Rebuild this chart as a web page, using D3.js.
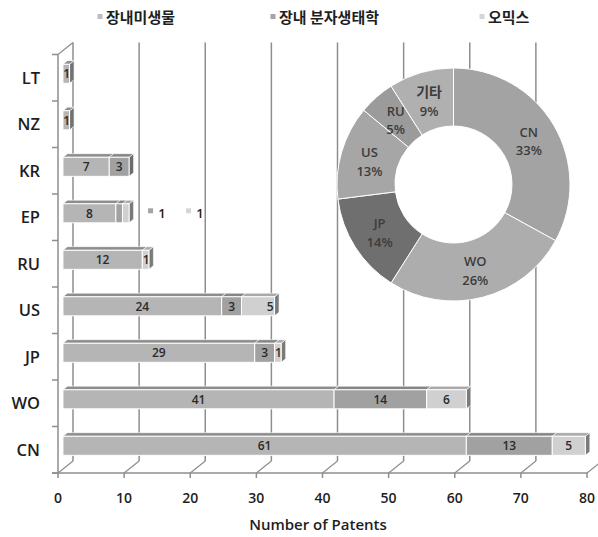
<!DOCTYPE html>
<html>
<head>
<meta charset="utf-8">
<script src="https://cdn.jsdelivr.net/npm/d3@7"></script>
<style>
  html, body { margin: 0; padding: 0; background: #fff; }
  svg { display: block; }
  .lat { font-family: "Open Sans", "Noto Sans", sans-serif; }
  .kor { font-family: "Noto Sans CJK KR", "Noto Sans", sans-serif; }
</style>
</head>
<body>
<svg id="chart" width="598" height="537"></svg>
<script>
// Patent counts by country, stacked by research area
const categories = ["LT", "NZ", "KR", "EP", "RU", "US", "JP", "WO", "CN"];
const seriesNames = ["장내미생물", "장내 분자생태학", "오믹스"];
const microbiota = [1, 1, 7, 8, 12, 24, 29, 41, 61];
const molecular  = [0, 0, 3, 1, 0, 3, 3, 14, 13];
const omics      = [0, 0, 0, 1, 1, 5, 1, 6, 5];
const xTicks = [0, 10, 20, 30, 40, 50, 60, 70, 80];

// Share of patents by country (donut)
const shareLabels = ["CN", "WO", "JP", "US", "RU", "기타"];
const shareValues = [33, 26, 14, 13, 5, 9];

const seriesFront = ["#b5b5b5", "#a1a1a1", "#d0d0d0"];
const seriesTop   = ["#8d8d8d", "#858585", "#a9a9a9"];
const seriesSide  = ["#727272", "#6c6c6c", "#7a7a7a"];
const legendKey   = ["#bdbdbd", "#a4a4a4", "#d6d6d6"];
const shareColors = ["#a3a3a3", "#adadad", "#6f6f6f", "#a6a6a6", "#9b9b9b", "#b0b0b0"];

const svg = d3.select("#chart");
const gridColor = "#8e8e8e";

// 3D frame: front plane and depth vector to the back wall
const x = d3.scaleLinear().domain([0, 80]).range([58, 587]);
const y = d3.scaleBand().domain(categories).range([54.5, 473]);
const depth = { x: 15, y: -12 };
const f0 = 0.33, f1 = 0.63;           // bar depth span (fraction of floor depth)
const barH = y.bandwidth() * 0.41;
const floorY = y.range()[1], wallTop = y.range()[0];

const frame = svg.append("g");
// back wall gridlines
frame.selectAll("line.grid").data(xTicks).join("line")
  .attr("x1", d => x(d) + depth.x).attr("x2", d => x(d) + depth.x)
  .attr("y1", wallTop + depth.y).attr("y2", floorY + depth.y)
  .attr("stroke", gridColor).attr("stroke-width", 1.5);
// floor diagonals
frame.selectAll("line.diag").data(xTicks).join("line")
  .attr("x1", d => x(d)).attr("x2", d => x(d) + depth.x)
  .attr("y1", floorY).attr("y2", floorY + depth.y)
  .attr("stroke", gridColor).attr("stroke-width", 1.2);
// left wall
frame.append("line").attr("x1", x(0)).attr("x2", x(0)).attr("y1", wallTop).attr("y2", floorY)
  .attr("stroke", gridColor).attr("stroke-width", 1.5);
frame.append("line").attr("x1", x(0)).attr("x2", x(0) + depth.x)
  .attr("y1", wallTop).attr("y2", wallTop + depth.y)
  .attr("stroke", gridColor).attr("stroke-width", 1.2);
// front floor edge + ticks
frame.append("line").attr("x1", x(0) - 6).attr("x2", x(80)).attr("y1", floorY).attr("y2", floorY)
  .attr("stroke", gridColor).attr("stroke-width", 1.5);
frame.selectAll("line.xt").data(xTicks).join("line")
  .attr("x1", d => x(d)).attr("x2", d => x(d)).attr("y1", floorY).attr("y2", floorY + 5)
  .attr("stroke", gridColor).attr("stroke-width", 1.5);
const yEdges = categories.map(c => y(c)).concat([floorY]);
frame.selectAll("line.yt").data(yEdges).join("line")
  .attr("x1", x(0) - 6).attr("x2", x(0)).attr("y1", d => d).attr("y2", d => d)
  .attr("stroke", gridColor).attr("stroke-width", 1.5);

// tick labels
svg.append("g").selectAll("text").data(xTicks).join("text")
  .attr("class", "lat").attr("x", d => x(d)).attr("y", floorY + 30)
  .attr("text-anchor", "middle").attr("font-size", 14).attr("font-weight", 600)
  .attr("fill", "#1e1e1e").text(d => d);
svg.append("g").selectAll("text").data(categories).join("text")
  .attr("class", "lat").attr("x", 40).attr("y", d => y(d) + y.bandwidth() / 2 + 6)
  .attr("text-anchor", "end").attr("font-size", 16.5).attr("font-weight", 600)
  .attr("fill", "#1e1e1e").text(d => d);
svg.append("text").attr("class", "lat").attr("x", 318).attr("y", 530)
  .attr("text-anchor", "middle").attr("font-size", 15).attr("font-weight", 600)
  .attr("fill", "#1e1e1e").text("Number of Patents");

// stacked 3D bars
const table = categories.map((c, i) => ({ cat: c, vals: [microbiota[i], molecular[i], omics[i]] }));
const bars = svg.append("g");
const labels = svg.append("g");
const dx0 = depth.x * f0, dy0 = depth.y * f0;
const ddx = depth.x * (f1 - f0), ddy = depth.y * (f1 - f0);

table.forEach(row => {
  const cy = y(row.cat) + y.bandwidth() / 2 + dy0;
  const top = cy - barH / 2, bot = cy + barH / 2;
  let acc = 0;
  const segs = [];
  row.vals.forEach((v, s) => {
    if (v <= 0) return;
    segs.push({ s, v, a: acc, b: acc + v });
    acc += v;
  });
  segs.forEach(seg => {
    const xa = x(seg.a) + dx0, xb = x(seg.b) + dx0;
    // right side
    bars.append("polygon")
      .attr("points", [[xb, top], [xb + ddx, top + ddy], [xb + ddx, bot + ddy], [xb, bot]].join(" "))
      .attr("fill", seriesSide[seg.s]).attr("stroke", "#fff").attr("stroke-width", 0.6);
    // top face
    bars.append("polygon")
      .attr("points", [[xa, top], [xb, top], [xb + ddx, top + ddy], [xa + ddx, top + ddy]].join(" "))
      .attr("fill", seriesTop[seg.s]).attr("stroke", "#fff").attr("stroke-width", 0.6);
    // front face
    bars.append("rect").attr("x", xa).attr("y", top).attr("width", xb - xa).attr("height", bot - top)
      .attr("fill", seriesFront[seg.s]).attr("stroke", "#fff").attr("stroke-width", 1);
  });
  // value labels
  const end = x(acc) + dx0;
  let outside = 0;
  segs.forEach(seg => {
    const w = x(seg.b) - x(seg.a);
    if (row.cat === "EP" && seg.s > 0) {
      // narrow segments get their labels beside the bar with a series key
      const kx = end + 19 + outside * 38;
      labels.append("rect").attr("x", kx).attr("y", cy - 5).attr("width", 5).attr("height", 5)
        .attr("fill", legendKey[seg.s]);
      labels.append("text").attr("class", "lat").attr("x", kx + 14).attr("y", cy + 4.5)
        .attr("text-anchor", "middle").attr("font-size", 13).attr("font-weight", 600)
        .attr("fill", "#222").text(seg.v);
      outside++;
      return;
    }
    // the US omics label sits at the inside end of its segment
    const atEnd = row.cat === "US" && seg.s === 2;
    labels.append("text").attr("class", "lat")
      .attr("x", atEnd ? x(seg.b) + dx0 - 1 : x(seg.a) + dx0 + w / 2 + (w < 10 ? 0.5 : 0))
      .attr("y", cy + 4.5)
      .attr("text-anchor", atEnd ? "end" : "middle").attr("font-size", 12).attr("font-weight", 600)
      .attr("fill", "#2a2a2a").text(seg.v);
  });
});

// donut of country shares
const cx = 453.5, cyD = 184.5, rOut = 116.5, rIn = 58.5;
const pie = d3.pie().sort(null).value(d => d.v);
const arc = d3.arc().innerRadius(rIn).outerRadius(rOut);
const shares = shareLabels.map((l, i) => ({ l, v: shareValues[i], c: shareColors[i] }));
const dg = svg.append("g").attr("transform", `translate(${cx},${cyD})`);
dg.append("circle").attr("r", rIn).attr("fill", "#fff");
dg.selectAll("path").data(pie(shares)).join("path")
  .attr("d", arc).attr("fill", d => d.data.c).attr("stroke", "#fff").attr("stroke-width", 1);
const dl = dg.selectAll("g.lbl").data(pie(shares)).join("g")
  .attr("transform", d => `translate(${arc.centroid(d)})`);
dl.append("text").attr("class", d => /[가-힣]/.test(d.data.l) ? "kor" : "lat")
  .attr("y", -3).attr("text-anchor", "middle")
  .attr("font-size", d => /[가-힣]/.test(d.data.l) ? 14 : 13).attr("font-weight", 600)
  .attr("fill", "#3c3c3c").text(d => d.data.l);
dl.append("text").attr("class", "lat").attr("y", 15.5).attr("text-anchor", "middle")
  .attr("font-size", 13).attr("font-weight", 600).attr("fill", "#3c3c3c")
  .text(d => d.data.v + "%");

// legend
const legX = [100, 273, 482];
const lg = svg.append("g");
seriesNames.forEach((n, i) => {
  lg.append("rect").attr("x", legX[i] - 2.5).attr("y", 14).attr("width", 5).attr("height", 5)
    .attr("fill", legendKey[i]);
  lg.append("text").attr("class", "kor").attr("x", legX[i] + 6).attr("y", 22.5)
    .attr("font-size", 15).attr("font-weight", 700).attr("fill", "#1e1e1e").text(n);
});
</script>
</body>
</html>
